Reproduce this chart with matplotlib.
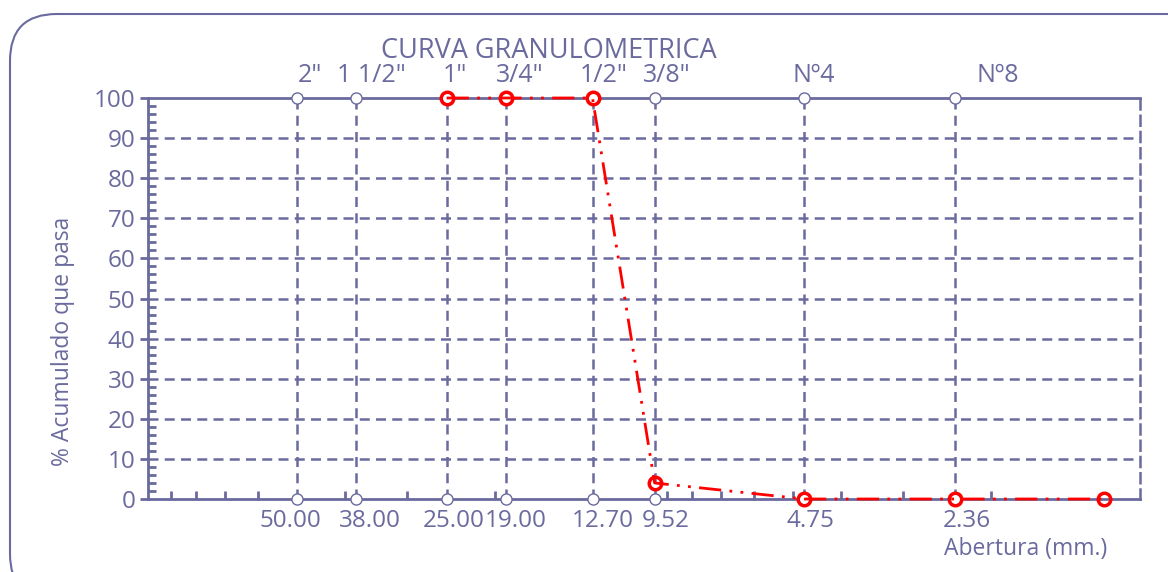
import matplotlib
matplotlib.use('Agg')
import matplotlib.pyplot as plt
from matplotlib.patches import FancyBboxPatch
from matplotlib.ticker import NullFormatter, FixedLocator

plt.rcParams['font.family'] = ['Open Sans', 'DejaVu Sans']

# Sieve openings (mm) and names
sieve_mm = [50.00, 38.00, 25.00, 19.00, 12.70, 9.52, 4.75, 2.36]
sieve_lbl = ['50.00', '38.00', '25.00', '19.00', '12.70', '9.52', '4.75', '2.36']
sieve_name = ['2"', '1 1/2"', '1"', '3/4"', '1/2"', '3/8"', 'Nº4', 'Nº8']

# Sample gradation (% passing)
sample_mm = [25.00, 19.00, 12.70, 9.52, 4.75, 2.36, 1.18]
sample_pass = [100, 100, 100, 4, 0, 0, 0]

# label nudges in pixels (the source chart places them off-centre)
bottom_dx = [-7, 13, 7, 10, 10, 11, 6, 12]
top_dx = [13, 15, 8, 14, 11, 12, 9, 43]

C = '#6a6a9e'

fig = plt.figure(figsize=(11.68, 5.72), dpi=100)
ax = fig.add_axes([148 / 1168, 1 - 499 / 572, (1140 - 148) / 1168, (499 - 98) / 572])

# rounded frame around the chart
frame = FancyBboxPatch((10 / 1168, -0.05), 1.2, 1 - 14 / 572 + 0.05,
                       boxstyle='round,pad=0,rounding_size=0.04',
                       transform=fig.transFigure, fc='none', ec=C, lw=1.5,
                       mutation_aspect=1168 / 572, clip_on=False)
fig.patches.append(frame)

ax.set_xscale('log')
ax.set_xlim(100, 1.0)
ax.set_ylim(0, 100)

# grid: horizontal every 10, vertical only at sieves
for yv in range(10, 100, 10):
    ax.axhline(yv, color=C, lw=1.8, ls=(0, (4, 2.5)), zorder=1)
for xv in sieve_mm:
    ax.axvline(xv, color=C, lw=1.8, ls=(0, (4, 2.5)), zorder=1)

for side in ['left', 'bottom', 'top']:
    ax.spines[side].set_color(C)
    ax.spines[side].set_linewidth(2)
ax.spines['right'].set_color(C)
ax.spines['right'].set_linewidth(1.8)
ax.spines['right'].set_linestyle((0, (4, 2.5)))

# open circles at sieve positions on both edges
ax.plot(sieve_mm, [0] * len(sieve_mm), 'o', mfc='white', mec=C, ms=8, mew=1, clip_on=False, zorder=3)
ax.plot(sieve_mm, [100] * len(sieve_mm), 'o', mfc='white', mec=C, ms=8, mew=1, clip_on=False, zorder=3)

# sample curve
ax.plot(sample_mm, sample_pass, color='#ff0000', lw=2, ls=(0, (8, 3, 1, 3, 1, 3)),
        marker='o', mfc='none', mec='#ff0000', ms=9, mew=2.5, clip_on=False, zorder=4)

# y axis ticks
ax.set_yticks(range(0, 101, 10))
ax.yaxis.set_minor_locator(FixedLocator([v for v in range(0, 101, 2) if v % 10]))
ax.tick_params(axis='y', which='major', direction='out', length=6, width=2, color=C,
               labelcolor=C, labelsize=17.5, pad=3)
ax.tick_params(axis='y', which='minor', direction='in', length=6, width=2, color=C)

# x axis: only minor log ticks, labels are placed by hand
minor_x = [90, 80, 70, 60, 40, 30, 20, 9, 8, 7, 6, 5, 4, 3, 2]
ax.xaxis.set_major_locator(FixedLocator([]))
ax.xaxis.set_minor_locator(FixedLocator(minor_x))
ax.xaxis.set_minor_formatter(NullFormatter())
ax.tick_params(axis='x', which='minor', direction='in', length=6, width=2, color=C)

px = 72 / 100  # pixels -> points
for xv, lbl, name, dxb, dxt in zip(sieve_mm, sieve_lbl, sieve_name, bottom_dx, top_dx):
    ax.annotate(lbl, (xv, 0), xycoords=('data', 'axes fraction'),
                xytext=(dxb * px, -22 * px), textcoords='offset points',
                ha='center', va='center', color=C, fontsize=17.5, annotation_clip=False)
    ax.annotate(name, (xv, 1), xycoords=('data', 'axes fraction'),
                xytext=(dxt * px, 22 * px), textcoords='offset points',
                ha='center', va='center', color=C, fontsize=18, annotation_clip=False)

fig.text(549 / 1168, 1 - 51 / 572, 'CURVA GRANULOMETRICA', color=C, fontsize=19.5,
         ha='center', va='center')
fig.text(63 / 1168, 1 - 341 / 572, '% Acumulado que pasa', color=C, fontsize=16.5,
         rotation=90, ha='center', va='center')
fig.text(1026 / 1168, 1 - 549 / 572, 'Abertura (mm.)', color=C, fontsize=16.5,
         ha='center', va='center')

fig.savefig('out.png', dpi=100)
